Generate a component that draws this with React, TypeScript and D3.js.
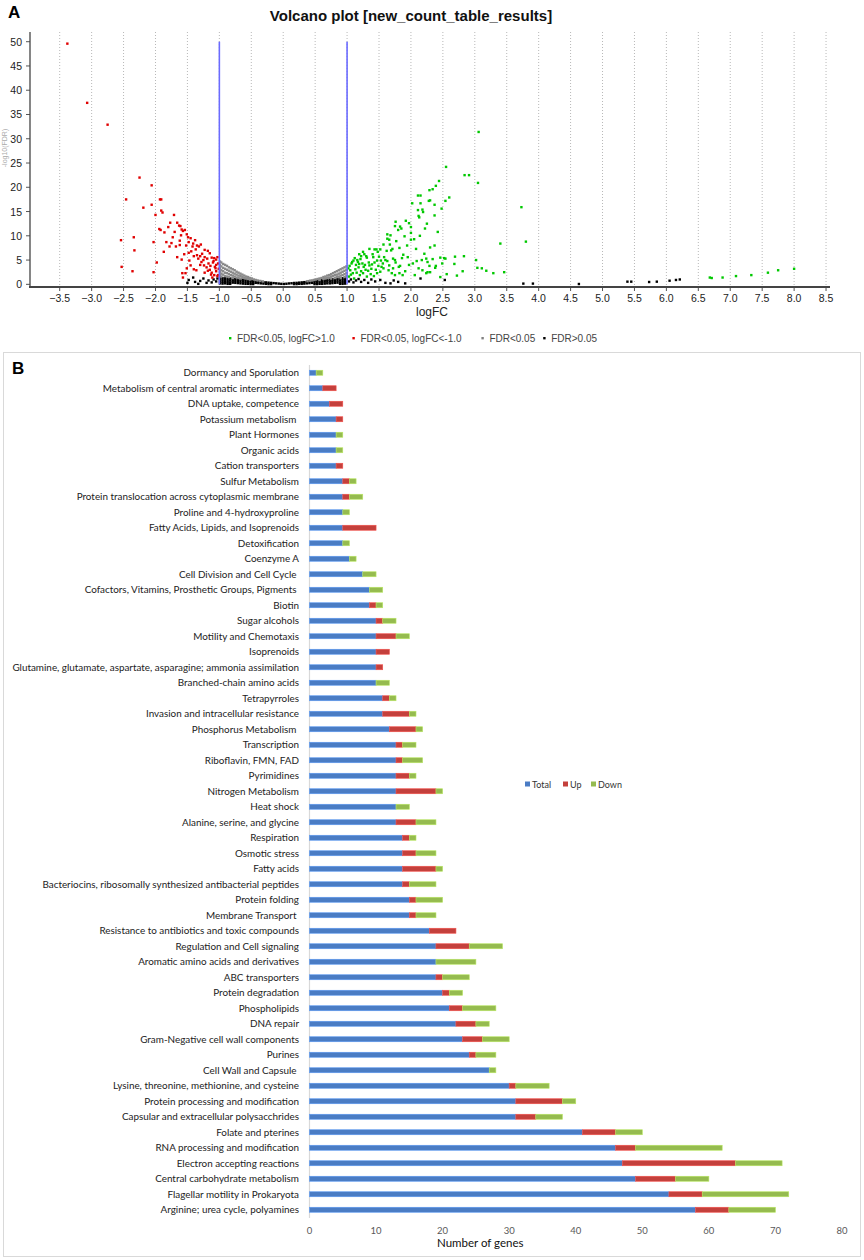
import React from 'react';
import * as d3 from 'd3';

// ---------- Panel A: volcano plot data (logFC, -log10 FDR) ----------
const redPoints: [number, number][] = [
  [-3.38, 49.6], [-3.07, 37.4], [-2.75, 32.9], [-2.25, 22.0], [-2.06, 20.4], [-2.46, 17.5],
  [-2.19, 15.8], [-2.06, 16.4], [-1.93, 17.5], [-1.91, 17.5], [-2.0, 14.3], [-1.91, 15.2],
  [-1.89, 14.8], [-2.54, 9.1], [-2.34, 9.7], [-2.33, 7.0], [-2.53, 3.6], [-2.36, 2.7],
  [-2.03, 8.7], [-1.98, 4.5], [-2.03, 2.5], [-1.94, 11.4], [-1.92, 11.2], [-1.71, 14.3],
  [-1.77, 12.7], [-1.86, 10.7], [-1.83, 8.7], [-1.87, 6.7], [-1.78, 7.8], [-1.73, 9.7],
  [-1.66, 12.7], [-1.63, 12.1], [-1.61, 12.0], [-1.59, 11.3], [-1.57, 11.0], [-1.54, 11.2],
  [-1.6, 10.1], [-1.68, 7.8], [-1.62, 8.1], [-1.59, 5.1], [-1.58, 2.3], [-1.57, 1.4],
  [-1.51, 10.3], [-1.49, 9.7], [-1.52, 8.0], [-1.48, 8.7], [-1.45, 9.5], [-1.42, 7.8],
  [-1.41, 8.4], [-1.38, 9.1], [-1.35, 8.0], [-1.32, 7.8], [-1.29, 8.2], [-1.37, 7.2],
  [-1.48, 6.5], [-1.4, 5.8], [-1.33, 5.3], [-1.3, 5.8], [-1.23, 7.1], [-1.18, 6.9],
  [-1.15, 6.4], [-1.23, 5.6], [-1.19, 5.3], [-1.12, 5.5], [-1.08, 5.4], [-1.05, 5.1],
  [-1.03, 5.6], [-1.28, 4.6], [-1.24, 3.9], [-1.17, 4.3], [-1.14, 3.8], [-1.07, 3.6],
  [-1.02, 4.3], [-1.23, 2.4], [-1.18, 2.8], [-1.12, 2.4], [-1.08, 1.9], [-1.05, 2.7],
  [-1.01, 3.2], [-1.4, 3.1], [-1.36, 2.9], [-1.51, 3.3], [-1.11, 1.4], [-1.03, 1.7],
  [-1.53, 2.3], [-1.05, 4.0], [-1.1, 4.5], [-1.15, 3.0], [-1.2, 3.5], [-1.25, 5.0],
  [-1.3, 4.0], [-1.02, 1.9], [-1.06, 3.3], [-1.13, 2.0], [-1.09, 4.8], [-1.27, 6.3],
  [-1.35, 6.0], [-1.44, 6.8], [-1.47, 4.9], [-1.55, 6.2], [-1.62, 9.0], [-1.7, 10.8],
  [-1.75, 8.5], [-1.8, 11.8], [-1.66, 5.6], [-1.45, 3.9],
];

const greenPoints: [number, number][] = [
  [3.06, 31.4], [2.55, 24.2], [2.84, 22.5], [2.91, 22.5], [3.05, 20.9], [2.44, 21.3],
  [2.39, 20.3], [2.34, 19.6], [2.29, 19.4], [2.11, 18.3], [2.15, 18.3], [2.6, 17.9],
  [2.54, 17.2], [2.28, 17.2], [2.3, 17.3], [2.02, 16.7], [2.15, 16.7], [2.37, 16.4],
  [2.11, 15.3], [2.18, 15.4], [2.19, 14.9], [2.48, 15.6], [2.37, 14.2], [2.12, 14.1],
  [2.13, 13.8], [1.92, 13.1], [1.76, 12.9], [1.83, 11.9], [1.85, 11.5], [1.8, 11.2],
  [1.75, 12.0], [2.22, 11.5], [2.0, 11.8], [2.42, 10.8], [1.63, 10.3], [1.68, 10.1],
  [1.66, 9.2], [1.63, 9.4], [2.0, 10.6], [2.0, 9.2], [2.05, 9.3], [1.77, 8.9],
  [1.82, 7.5], [1.57, 8.2], [1.67, 8.2], [1.94, 8.0], [2.37, 8.0], [2.08, 7.3],
  [1.71, 7.3], [1.69, 7.0], [1.43, 7.2], [1.46, 7.2], [1.35, 7.3], [1.52, 7.2],
  [1.62, 6.9], [1.25, 6.7], [1.27, 6.2], [1.22, 5.8], [1.19, 6.2], [1.3, 5.8],
  [1.31, 5.5], [1.4, 6.2], [1.41, 5.6], [1.48, 6.7], [1.5, 5.7], [1.88, 6.1],
  [1.86, 5.4], [1.12, 5.4], [1.1, 4.9], [1.07, 4.3], [1.04, 3.8], [1.17, 4.6],
  [1.19, 4.2], [1.14, 4.0], [1.24, 4.3], [1.26, 3.6], [1.28, 4.0], [1.34, 4.5],
  [1.35, 3.9], [1.38, 3.2], [1.43, 4.5], [1.47, 4.9], [1.49, 3.8], [1.6, 5.0],
  [1.63, 4.8], [1.56, 4.3], [1.72, 5.3], [1.75, 5.0], [1.76, 4.5], [1.81, 3.6],
  [1.83, 3.8], [1.97, 4.0], [2.03, 4.3], [2.09, 4.8], [2.17, 5.0], [2.24, 5.3],
  [2.26, 4.6], [2.29, 3.8], [2.34, 5.2], [2.46, 5.5], [2.39, 3.8], [2.69, 5.7],
  [2.83, 5.8], [2.68, 4.2], [2.54, 5.3], [3.02, 5.0], [3.04, 3.4], [3.11, 3.3],
  [3.18, 2.8], [3.29, 2.3], [3.46, 2.5], [3.4, 8.4], [3.73, 15.9], [3.8, 8.8],
  [1.54, 3.6], [1.57, 3.3], [1.52, 2.6], [1.65, 2.9], [1.7, 2.3], [1.75, 1.9],
  [1.82, 2.3], [1.87, 1.9], [2.26, 2.5], [2.3, 2.5], [2.24, 2.3], [2.46, 1.5],
  [2.56, 2.1], [2.72, 1.8], [2.81, 2.7], [2.06, 1.9], [1.05, 2.9], [1.09, 2.3],
  [1.15, 2.4], [1.2, 1.9], [1.25, 2.3], [1.31, 1.6], [1.37, 2.1], [1.42, 1.7],
  [1.47, 2.3], [1.03, 1.6], [1.11, 1.2], [2.52, 5.4], [2.49, 4.3], [2.38, 3.4],
  [1.02, 3.3], [1.06, 2.0], [1.13, 3.1], [1.18, 3.5], [1.22, 2.7], [1.08, 4.6],
  [1.16, 5.0], [1.21, 5.2], [1.33, 2.8], [1.29, 3.0], [1.45, 3.0], [1.39, 4.1],
  [1.58, 5.6], [1.53, 4.9], [1.66, 3.9], [1.72, 3.3], [1.91, 2.7], [1.95, 5.6],
  [2.12, 3.3], [2.18, 2.9], [2.21, 6.3], [2.3, 7.6], [2.14, 10.0], [2.25, 12.5],
  [1.9, 9.9], [1.97, 12.6],
  [6.68, 1.4], [6.71, 1.3], [6.88, 1.4], [7.09, 1.7], [7.33, 1.9], [7.59, 2.4],
  [7.75, 2.9], [8.0, 3.2],
];

// FDR<0.05 but |logFC|<1 (grey wedges), as columns: [logFC, values]
const greyColumns: [number, number[]][] = [
  [-0.99, [4.7, 4.0, 3.3, 2.6, 1.9]], [-0.97, [4.5, 3.7, 2.9, 2.2, 1.6]],
  [-0.94, [4.2, 3.4, 2.7, 2.0]], [-0.91, [4.0, 3.2, 2.4, 1.7]],
  [-0.88, [3.8, 3.0, 2.3, 1.6]], [-0.85, [3.5, 2.8, 2.1, 1.5]],
  [-0.82, [3.3, 2.6, 1.9]], [-0.79, [3.1, 2.4, 1.8, 1.3]],
  [-0.76, [2.9, 2.2, 1.6]], [-0.73, [2.6, 2.0, 1.4]],
  [-0.7, [2.4, 1.8, 1.3]], [-0.67, [2.2, 1.7, 1.2]],
  [-0.64, [2.0, 1.5]], [-0.61, [1.8, 1.3]], [-0.58, [1.6, 1.2]],
  [-0.55, [1.5, 1.1]], [-0.52, [1.3, 1.0]], [-0.49, [1.2]],
  [-0.46, [1.0]], [-0.43, [0.9]], [-0.4, [0.8]], [-0.36, [0.7]], [-0.32, [0.6]],
  [0.99, [3.7, 3.0, 2.3, 1.7]], [0.96, [3.5, 2.8, 2.1, 1.5]],
  [0.93, [3.3, 2.6, 1.9]], [0.9, [3.1, 2.4, 1.8, 1.3]],
  [0.87, [2.9, 2.2, 1.6]], [0.84, [2.7, 2.0, 1.5]],
  [0.81, [2.5, 1.9, 1.3]], [0.78, [2.3, 1.7]], [0.75, [2.1, 1.6, 1.2]],
  [0.72, [1.9, 1.4]], [0.69, [1.8, 1.3]], [0.66, [1.6, 1.2]],
  [0.63, [1.5, 1.1]], [0.6, [1.3]], [0.57, [1.2, 0.9]], [0.54, [1.1]],
  [0.51, [1.0]], [0.48, [0.9]], [0.45, [0.8]], [0.42, [0.75]], [0.38, [0.65]],
];

// FDR>0.05, dense band around zero
const blackColumns: [number, number[]][] = [
  [-0.99, [1.4, 1.0, 0.6, 0.2]], [-0.95, [1.3, 0.9, 0.5, 0.15]],
  [-0.91, [1.35, 0.95, 0.55, 0.2]], [-0.87, [1.25, 0.85, 0.45, 0.1]],
  [-0.83, [1.2, 0.8, 0.4, 0.1]], [-0.79, [1.15, 0.75, 0.35]],
  [-0.75, [1.1, 0.7, 0.3]], [-0.71, [1.05, 0.65, 0.25]],
  [-0.67, [1.0, 0.6, 0.2]], [-0.63, [0.95, 0.55, 0.15]],
  [-0.59, [0.9, 0.5, 0.1]], [-0.55, [0.85, 0.45, 0.1]],
  [-0.51, [0.75, 0.4, 0.05]], [-0.47, [0.7, 0.35, 0.05]],
  [-0.43, [0.65, 0.3]], [-0.39, [0.6, 0.25]], [-0.35, [0.5, 0.2]],
  [-0.31, [0.45, 0.15]], [-0.27, [0.4, 0.1]], [-0.23, [0.35, 0.05]],
  [-0.19, [0.3, 0.05]], [-0.15, [0.25]], [-0.11, [0.2]], [-0.07, [0.15]],
  [-0.03, [0.1]], [0.01, [0.08]], [0.05, [0.12]], [0.09, [0.18]], [0.13, [0.22]],
  [0.17, [0.28, 0.05]], [0.21, [0.3, 0.05]], [0.25, [0.35, 0.1]], [0.29, [0.4, 0.1]],
  [0.33, [0.45, 0.15]], [0.37, [0.5, 0.2]], [0.41, [0.6, 0.25]], [0.45, [0.65, 0.3]],
  [0.49, [0.7, 0.35, 0.05]], [0.53, [0.75, 0.4, 0.05]], [0.57, [0.8, 0.45, 0.1]],
  [0.61, [0.85, 0.5, 0.1]], [0.65, [0.9, 0.55, 0.15]], [0.69, [0.95, 0.6, 0.2]],
  [0.73, [1.0, 0.6, 0.2]], [0.77, [1.05, 0.65, 0.25]], [0.81, [1.1, 0.7, 0.3]],
  [0.85, [1.15, 0.75, 0.35]], [0.89, [1.2, 0.8, 0.4, 0.1]],
  [0.93, [1.25, 0.85, 0.45, 0.1]], [0.97, [1.3, 0.9, 0.5, 0.15]],
];

const blackPoints: [number, number][] = [
  [-1.5, 0.3], [-1.33, 0.1], [-1.41, 1.4], [-1.25, 1.2], [-1.17, 0.8], [-1.09, 1.0],
  [-1.3, 0.7], [-1.48, 0.9], [-1.12, 0.4], [-1.05, 0.6], [-1.2, 0.3], [-1.03, 1.2],
  [-1.38, 0.5], [1.03, 0.6], [1.06, 1.0], [1.1, 0.4], [1.14, 0.8], [1.18, 1.1],
  [1.22, 0.5], [1.27, 0.9], [1.33, 0.3], [1.38, 1.0], [1.44, 0.6], [1.52, 0.9],
  [1.6, 0.3], [1.68, 0.2], [1.73, 0.8], [1.8, 0.5], [1.91, 0.2], [2.15, 1.2],
  [2.53, 0.9], [3.76, 0.15], [3.91, 0.15], [4.63, 0.07], [5.39, 0.55], [5.45, 0.55],
  [5.73, 0.48], [5.85, 0.55], [6.05, 0.75], [6.15, 0.9], [6.21, 1.0],
];

const volcanoXTicks = d3.range(-3.5, 8.51, 0.5);
const volcanoYTicks = [0, 5, 10, 15, 20, 25, 30, 35, 40, 45, 50];
const logFcCutoffs = [-1, 1];

const volcanoLegend = [
  { label: 'FDR<0.05, logFC>1.0', color: '#00c800' },
  { label: 'FDR<0.05, logFC<-1.0', color: '#e00000' },
  { label: 'FDR<0.05', color: '#808080' },
  { label: 'FDR>0.05', color: '#000000' },
];

// ---------- Panel B: gene counts per subsystem (top to bottom) ----------
const categories = [
  'Dormancy and Sporulation',
  'Metabolism of central aromatic intermediates',
  'DNA uptake, competence',
  'Potassium metabolism ',
  'Plant Hormones',
  'Organic acids',
  'Cation transporters',
  'Sulfur Metabolism',
  'Protein translocation across cytoplasmic membrane',
  'Proline and 4-hydroxyproline',
  'Fatty Acids, Lipids, and Isoprenoids',
  'Detoxification',
  'Coenzyme A',
  'Cell Division and Cell Cycle ',
  'Cofactors, Vitamins, Prosthetic Groups, Pigments ',
  'Biotin',
  'Sugar alcohols',
  'Motility and Chemotaxis',
  'Isoprenoids',
  'Glutamine, glutamate, aspartate, asparagine; ammonia assimilation',
  'Branched-chain amino acids',
  'Tetrapyrroles',
  'Invasion and intracellular resistance',
  'Phosphorus Metabolism ',
  'Transcription',
  'Riboflavin, FMN, FAD',
  'Pyrimidines',
  'Nitrogen Metabolism',
  'Heat shock',
  'Alanine, serine, and glycine',
  'Respiration',
  'Osmotic stress',
  'Fatty acids',
  'Bacteriocins, ribosomally synthesized antibacterial peptides',
  'Protein folding',
  'Membrane Transport ',
  'Resistance to antibiotics and toxic compounds',
  'Regulation and Cell signaling',
  'Aromatic amino acids and derivatives',
  'ABC transporters',
  'Protein degradation',
  'Phospholipids',
  'DNA repair',
  'Gram-Negative cell wall components',
  'Purines',
  'Cell Wall and Capsule ',
  'Lysine, threonine, methionine, and cysteine',
  'Protein processing and modification',
  'Capsular and extracellular polysacchrides',
  'Folate and pterines',
  'RNA processing and modification',
  'Electron accepting reactions',
  'Central carbohydrate metabolism',
  'Flagellar motility in Prokaryota',
  'Arginine; urea cycle, polyamines',
];

const totalGenes = [
  1, 2, 3, 4, 4, 4, 4, 5, 5, 5, 5, 5, 6, 8, 9, 9, 10, 10, 10, 10, 10, 11, 11, 12, 13, 13, 13, 13,
  13, 13, 14, 14, 14, 14, 15, 15, 18, 19, 19, 19, 20, 21, 22, 23, 24, 27, 30, 31, 31, 41, 46, 47,
  49, 54, 58,
];
const upGenes = [
  0, 2, 2, 1, 0, 0, 1, 1, 1, 0, 5, 0, 0, 0, 0, 1, 1, 3, 2, 1, 0, 1, 4, 4, 1, 1, 2, 6,
  0, 3, 1, 2, 5, 1, 1, 1, 4, 5, 0, 1, 1, 2, 3, 3, 1, 0, 1, 7, 3, 5, 3, 17,
  6, 5, 5,
];
const downGenes = [
  1, 0, 0, 0, 1, 1, 0, 1, 2, 1, 0, 1, 1, 2, 2, 1, 2, 2, 0, 0, 2, 1, 1, 1, 2, 3, 1, 1,
  2, 3, 1, 3, 1, 4, 4, 3, 0, 5, 6, 4, 2, 5, 2, 4, 3, 1, 5, 2, 4, 4, 13, 7,
  5, 13, 7,
];

const seriesKeys = ['Total', 'Up', 'Down'];
const seriesColors = ['#4a7cc4', '#c4403c', '#95bb4f'];
const geneTicks = [0, 10, 20, 30, 40, 50, 60, 70, 80];

const W = 864;
const H = 1260;

function Volcano() {
  const x = d3.scaleLinear().domain([-3.965, 8.562]).range([30, 830]);
  const y = d3.scaleLinear().domain([-0.55, 52]).range([287, 32]);
  const sz = 2.4;

  const grey = greyColumns.flatMap(([lx, ys]) => ys.map((v) => [lx, v] as [number, number]));
  const black = blackColumns
    .flatMap(([lx, ys]) => ys.map((v) => [lx, v] as [number, number]))
    .concat(blackPoints);

  const dot = (p: [number, number], i: number, color: string) => (
    <rect key={i} x={x(p[0]) - sz / 2} y={y(p[1]) - sz / 2} width={sz} height={sz} fill={color} />
  );

  const font = "'Liberation Sans', Arial, sans-serif";
  let lx = 229;
  const legendItems = volcanoLegend.map((d) => {
    const item = { ...d, x: lx };
    lx += d.label.length * 5.6 + 17;
    return item;
  });

  return (
    <g fontFamily={font}>
      <text x={8} y={18} fontSize={17} fontWeight="bold">A</text>
      <text x={411} y={20.5} fontSize={15} fontWeight="bold" textAnchor="middle" fill="#111">
        Volcano plot [new_count_table_results]
      </text>
      <text transform="translate(7,148) rotate(-90)" fontSize={7} textAnchor="middle" fill="#aaa">
        -log10(FDR)
      </text>

      {volcanoXTicks.map((t) => (
        <g key={t}>
          <line x1={x(t)} x2={x(t)} y1={32} y2={286} stroke="#b8b8b8" strokeDasharray="1,2" />
          <line x1={x(t)} x2={x(t)} y1={287} y2={291} stroke="#555" />
          <text x={x(t)} y={302} fontSize={10.5} textAnchor="middle" fill="#222">
            {d3.format('.1f')(t)}
          </text>
        </g>
      ))}
      {volcanoYTicks.map((t) => (
        <g key={t}>
          <line x1={26} x2={30} y1={y(t)} y2={y(t)} stroke="#555" />
          <text x={22} y={y(t) + 4} fontSize={10.5} textAnchor="end" fill="#222">
            {t}
          </text>
        </g>
      ))}

      <g>{black.map((p, i) => dot(p, i, '#000'))}</g>
      <g>{grey.map((p, i) => dot(p, i, '#8a8a8a'))}</g>
      <g>{redPoints.map((p, i) => dot(p, i, '#e00000'))}</g>
      <g>{greenPoints.map((p, i) => dot(p, i, '#00c800'))}</g>

      {logFcCutoffs.map((c) => (
        <line key={c} x1={x(c)} x2={x(c)} y1={y(50)} y2={y(0)} stroke="#6b6bff" strokeWidth={1.6} />
      ))}

      <line x1={30} x2={30} y1={32} y2={287} stroke="#444" strokeWidth={1.3} />
      <line x1={29} x2={830} y1={287} y2={287} stroke="#444" strokeWidth={2} />

      <text x={432} y={316} fontSize={12} textAnchor="middle" fill="#222">logFC</text>

      {legendItems.map((d) => (
        <g key={d.label}>
          <rect x={d.x} y={337} width={2.4} height={2.4} fill={d.color} />
          <text x={d.x + 8} y={342} fontSize={10} fill="#444">{d.label}</text>
        </g>
      ))}
    </g>
  );
}

function GeneBars() {
  const rows = categories.map((c, i) => ({
    category: c,
    Total: totalGenes[i],
    Up: upGenes[i],
    Down: downGenes[i],
  }));
  const stack = d3.stack<any>().keys(seriesKeys)(rows);
  const x = d3.scaleLinear().domain([0, 80]).range([309.5, 842]);
  const y = d3.scaleBand().domain(categories).range([365, 1217.5]);
  const barH = 5;
  const font = "Lato, 'Open Sans', sans-serif";

  const legendX = [525, 563, 591];

  return (
    <g fontFamily={font}>
      <rect x={3.5} y={352.5} width={857} height={904} fill="none" stroke="#d9d9d9" />
      <text x={12} y={374} fontSize={17} fontWeight="bold" fontFamily="'Liberation Sans', Arial">B</text>

      <line x1={309.5} x2={309.5} y1={365} y2={1218} stroke="#d9d9d9" strokeWidth={1.2} />

      {categories.map((c) => (
        <text
          key={c}
          x={299}
          y={(y(c) as number) + y.bandwidth() / 2}
          dy="0.35em"
          fontSize={9.9}
          textAnchor="end"
          fill="#222"
          style={{ whiteSpace: 'pre' }}
        >
          {c}
        </text>
      ))}

      {stack.map((s, si) => (
        <g key={s.key} fill={seriesColors[si]}>
          {s.map((d, i) =>
            d[1] > d[0] ? (
              <rect
                key={i}
                x={x(d[0])}
                y={(y(categories[i]) as number) + (y.bandwidth() - barH) / 2}
                width={x(d[1]) - x(d[0])}
                height={barH}
                stroke={d3.color(seriesColors[si])!.brighter(0.6).formatHex()}
                strokeWidth={0.6}
              />
            ) : null
          )}
        </g>
      ))}

      {geneTicks.map((t) => (
        <text key={t} x={x(t)} y={1234} fontSize={9.5} textAnchor="middle" fill="#595959">
          {t}
        </text>
      ))}
      <text x={437} y={1247} fontSize={11.5} fill="#111">Number of genes</text>

      {seriesKeys.map((k, i) => (
        <g key={k}>
          <rect x={legendX[i]} y={781.5} width={5} height={5} fill={seriesColors[i]} />
          <text x={legendX[i] + 7} y={787.5} fontSize={9} fill="#333">{k}</text>
        </g>
      ))}
    </g>
  );
}

export default function App() {
  return (
    <svg
      width={W}
      height={H}
      viewBox={`0 0 ${W} ${H}`}
      style={{ position: 'absolute', left: 0, top: 0, background: '#fff' }}
    >
      <rect width={W} height={H} fill="#fff" />
      <Volcano />
      <GeneBars />
    </svg>
  );
}
